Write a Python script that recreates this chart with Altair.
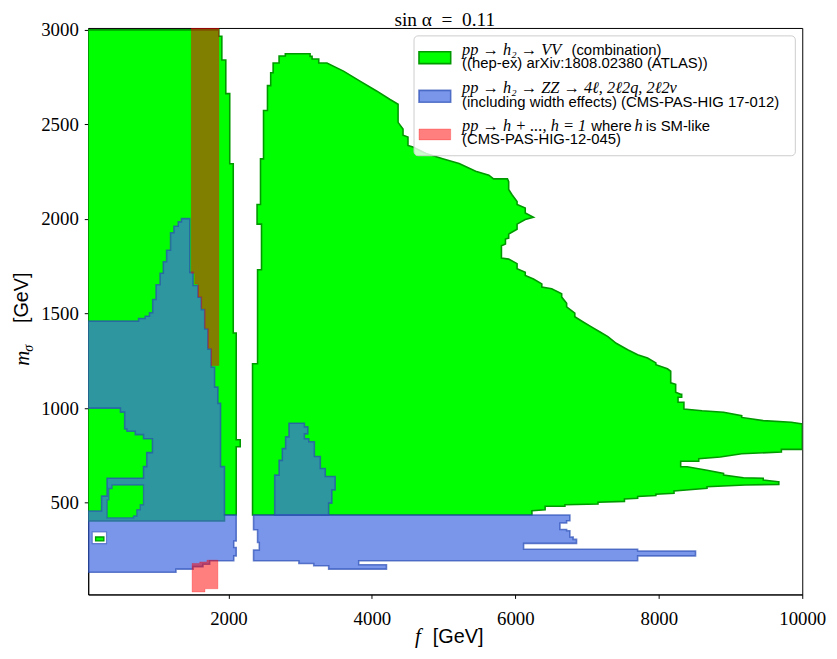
import altair as alt
import pandas as pd

# ---------------- region outlines (f in GeV, m_sigma in GeV) ----------------
# VV combination (green), left piece
green_left_f = [45, 1866, 1866, 1908, 1908, 1963, 1963, 2018, 2018, 2067, 2067, 2108, 2108, 2164, 2164, 2108, 2108, 1945, 1945, 45]
green_left_m = [3000, 3000, 2966, 2966, 2841, 2841, 2663, 2663, 2292, 2292, 1397, 1397, 833, 833, 796, 796, 435, 435, 404, 404]

# VV combination (green), right piece
green_right_f = [2336, 2336, 2406, 2406, 2461, 2461, 2399, 2399, 2447, 2447, 2489, 2489, 2544, 2544, 2589, 2589, 2623, 2623, 2706, 2706,
                 2793, 2793, 3138, 3138, 3166, 3166, 3259, 3259, 3373, 3604, 3834, 4065, 4248, 4365, 4365, 4434, 4434, 4503, 4503, 4572,
                 4756, 4987, 5216, 5447, 5631, 5696, 5890, 5907, 5907, 5954, 6024, 6024, 6138, 6138, 6253, 6138, 6024, 6024, 5907, 5907,
                 5862, 5862, 5806, 5806, 5907, 6024, 6024, 6138, 6138, 6253, 6369, 6369, 6507, 6646, 6646, 6715, 6715, 6829, 6829, 6940,
                 7060, 7175, 7290, 7406, 7566, 7705, 7843, 7959, 7959, 8120, 8166, 8166, 8235, 8235, 8305, 8319, 8319, 8268, 8268, 8350,
                 8350, 8603, 8903, 9156, 9156, 9456, 9847, 10000, 10000, 9709, 9709, 9156, 8857, 8557, 8557, 8305, 8305, 8395, 8672, 8903,
                 8903, 9180, 9456, 9456, 9664, 9673, 9673, 9203, 8672, 8672, 8212, 8212, 7959, 7959, 7705, 7705, 7521, 7521, 7152, 7152,
                 6691, 6691, 6415, 6415, 6231, 6231]
green_right_m = [435, 1235, 1235, 1732, 1732, 1973, 1973, 2077, 2077, 2318, 2318, 2574, 2574, 2705, 2705, 2773, 2773, 2825, 2825, 2862,
                 2862, 2874, 2874, 2860, 2860, 2846, 2846, 2825, 2825, 2782, 2729, 2677, 2633, 2607, 2511, 2476, 2443, 2433, 2389, 2381,
                 2346, 2319, 2293, 2253, 2232, 2212, 2212, 2197, 2156, 2128, 2093, 2077, 2058, 2032, 2009, 1997, 1973, 1946, 1920, 1899,
                 1894, 1868, 1858, 1793, 1788, 1764, 1737, 1718, 1701, 1683, 1657, 1640, 1631, 1605, 1587, 1554, 1535, 1502, 1483, 1457,
                 1430, 1404, 1378, 1343, 1309, 1282, 1265, 1239, 1230, 1208, 1195, 1134, 1126, 1084, 1073, 1073, 1058, 1058, 1031, 1031,
                 995, 986, 978, 960, 951, 934, 925, 917, 782, 782, 768, 759, 742, 733, 719, 719, 690, 690, 672, 655,
                 646, 632, 629, 620, 611, 611, 597, 594, 585, 576, 562, 550, 545, 538, 533, 524, 520, 507, 503, 493,
                 489, 481, 481, 463, 458, 435]

# ZZ (blue), left piece
blue_left_f = [45, 747, 747, 839, 839, 899, 899, 944, 944, 991, 991, 1047, 1047, 1092, 1092, 1138, 1138, 1193, 1193, 1240,
               1240, 1300, 1300, 1345, 1345, 1461, 1461, 1507, 1507, 1576, 1576, 1622, 1622, 1669, 1669, 1714, 1714, 1760, 1760, 1807,
               1807, 1853, 1853, 1890, 1890, 1945, 1945, 2108, 2108, 2074, 2074, 2108, 2108, 2074, 2074, 1738, 1738, 1645, 1645, 1507,
               1507, 1268, 1268, 45, 45, 231, 231, 308, 308, 816, 816, 861, 861, 940, 940, 816, 816, 701, 701, 585,
               585, 553, 553, 494, 494, 45]
blue_left_m = [1460, 1460, 1474, 1474, 1486, 1486, 1504, 1504, 1574, 1574, 1652, 1652, 1713, 1713, 1774, 1774, 1835, 1835, 1927, 1927,
               1962, 1962, 1985, 1985, 2002, 2002, 1718, 1718, 1648, 1648, 1586, 1586, 1521, 1521, 1418, 1418, 1312, 1312, 1216, 1216,
               1111, 1111, 1025, 1025, 691, 691, 435, 435, 298, 298, 263, 263, 219, 219, 193, 193, 175, 175, 162, 162,
               149, 149, 132, 132, 456, 456, 535, 535, 629, 629, 691, 691, 765, 765, 838, 838, 860, 860, 878, 878,
               890, 890, 979, 979, 1000, 1000]

# ZZ (blue), band right of the gap
blue_band_f = [2350, 6760, 6760, 6715, 6715, 6622, 6622, 6715, 6715, 6760, 6760, 6806, 6806, 6853, 6853, 6115, 6115, 7705, 7705, 8512,
               8512, 7705, 7705, 3816, 3816, 4203, 4203, 3397, 3397, 3189, 3189, 2982, 2982, 2350, 2350, 2430, 2430, 2406, 2406, 2350]
blue_band_m = [435, 435, 405, 405, 393, 393, 358, 358, 352, 352, 319, 319, 306, 306, 285, 285, 254, 254, 245, 245,
               219, 219, 193, 193, 172, 172, 149, 149, 167, 167, 179, 179, 193, 193, 250, 250, 290, 290, 357, 357]

# ZZ (blue), island near f = 3 TeV
blue_blob_f = [2844, 3059, 3059, 3107, 3107, 3059, 3059, 3120, 3120, 3198, 3198, 3281, 3281, 3350, 3350, 3488, 3488, 3442, 3442, 3397,
               3397, 2645, 2645, 2706, 2706, 2751, 2751, 2797, 2797, 2844]
blue_blob_m = [920, 920, 901, 901, 864, 864, 838, 838, 822, 822, 744, 744, 681, 681, 639, 639, 568, 568, 498, 498,
               435, 435, 646, 646, 724, 724, 786, 786, 848, 848]

# holes in the blue region
hole_green_f = [377, 816, 816, 770, 770, 723, 723, 677, 677, 308, 308, 332, 332, 377]
hole_green_m = [594, 594, 489, 489, 463, 463, 430, 430, 420, 420, 515, 515, 575, 575]
hole_white_f = [101, 300, 300, 101]
hole_white_m = [345, 345, 284, 284]
speck_green_f = [148, 263, 263, 148]
speck_green_m = [319, 319, 298, 298]

# SM-like h (red)
red_top_f = [1483, 1866, 1866, 1760, 1760, 1714, 1714, 1669, 1669, 1622, 1622, 1576, 1576, 1530, 1530, 1483]
red_top_m = [3010, 3010, 1226, 1226, 1317, 1317, 1422, 1422, 1527, 1527, 1587, 1587, 1657, 1657, 1713, 1713]
red_low_f = [1493, 1493, 1600, 1600, 1700, 1700, 1853, 1853, 1673, 1673]
red_low_m = [28, 179, 179, 187, 187, 196, 196, 45, 45, 28]

x_ticks = [2000, 4000, 6000, 8000, 10000]
y_ticks = [500, 1000, 1500, 2000, 2500, 3000]


def frame(name, fs, ms):
    return pd.DataFrame({"poly": name, "i": list(range(len(fs))), "f": fs, "m": ms})


xs = alt.Scale(domain=[45, 10000], nice=False, zero=False)
ys = alt.Scale(domain=[15, 3010], nice=False, zero=False)

x_axis = alt.Axis(values=x_ticks, format="d", title=None, labelFlush=False, labelPadding=11)
y_axis = alt.Axis(values=y_ticks, format="d", title=None, labelFlush=False, labelPadding=6)

GREEN_EDGE = "#009a00"
BLUE_EDGE = "#2a4db5"


def polys(frames, fill, fill_op, stroke, stroke_op, sw):
    df = pd.concat(frames, ignore_index=True)
    return alt.Chart(df).mark_line(
        interpolate="linear-closed", fill=fill, fillOpacity=fill_op,
        stroke=stroke, strokeOpacity=stroke_op, strokeWidth=sw, clip=True
    ).encode(
        x=alt.X("f:Q", scale=xs, axis=x_axis),
        y=alt.Y("m:Q", scale=ys, axis=y_axis),
        detail="poly:N",
        order="i:Q",
    )


green = polys([frame("g1", green_left_f, green_left_m), frame("g2", green_right_f, green_right_m)],
              "#00ff00", 1.0, GREEN_EDGE, 1.0, 1.6)
blue = polys([frame("b1", blue_left_f, blue_left_m), frame("b2", blue_band_f, blue_band_m),
              frame("b3", blue_blob_f, blue_blob_m)],
             "#4169e1", 0.7, BLUE_EDGE, 0.7, 1.6)
hole_w = polys([frame("h2", hole_white_f, hole_white_m)], "#ffffff", 1.0, BLUE_EDGE, 0.6, 1.2)
hole_g = polys([frame("h1", hole_green_f, hole_green_m)], "#00ff00", 1.0, BLUE_EDGE, 0.6, 1.4)
speck = polys([frame("h3", speck_green_f, speck_green_m)], "#00ff00", 1.0, GREEN_EDGE, 1.0, 1.4)
red = polys([frame("r1", red_top_f, red_top_m), frame("r2", red_low_f, red_low_m)],
            "#ff0000", 0.5, "#ff0000", 0.25, 1.0)

one = pd.DataFrame({"a": [0]})


def txt(s, x, y, font, size, style="normal", angle=0, baseline="middle", align="left"):
    return alt.Chart(one).mark_text(
        text=s, font=font, fontSize=size, fontStyle=style, align=align,
        baseline=baseline, angle=angle, color="black"
    ).encode(x=alt.value(x), y=alt.value(y))


def box(x1, x2, y1, y2, fill, fop, stroke, sop, sw, r=0):
    return alt.Chart(one).mark_rect(
        fill=fill, fillOpacity=fop, stroke=stroke, strokeOpacity=sop, strokeWidth=sw, cornerRadius=r
    ).encode(x=alt.value(x1), x2=alt.value(x2), y=alt.value(y1), y2=alt.value(y2))


SERIF = "Liberation Serif"
SANS = "Liberation Sans"
LS = 15      # legend text size
MS = 16.5    # legend math size

legend = [
    box(329, 714, 8, 129, "white", 0.8, "#cccccc", 1.0, 1, 4),
    box(334, 366, 24, 36, "#00ff00", 1.0, GREEN_EDGE, 1.0, 1.6),
    box(334, 366, 63, 75, "#4169e1", 0.7, BLUE_EDGE, 0.7, 1.6),
    box(334, 366, 102, 113, "#ff0000", 0.5, "#ff0000", 0.25, 1.0),
    txt("pp → h₂ → VV", 377.5, 22.3, SERIF, MS, "italic"),
    txt("(combination)", 488, 22.3, SANS, LS),
    txt("((hep-ex) arXiv:1808.02380 (ATLAS))", 377.5, 35.5, SANS, LS),
    txt("pp → h₂ → ZZ → 4ℓ, 2ℓ2q, 2ℓ2ν", 377.5, 61, SERIF, MS, "italic"),
    txt("(including width effects) (CMS-PAS-HIG 17-012)", 377.5, 75, SANS, LS),
    txt("pp → h + ..., h = 1", 377.5, 99.3, SERIF, MS, "italic"),
    txt("where", 508, 99.3, SANS, LS),
    txt("h", 551.5, 99.3, SERIF, MS, "italic"),
    txt("is SM-like", 563, 99.3, SANS, LS),
    txt("(CMS-PAS-HIG-12-045)", 377.5, 112.5, SANS, LS),
]

titles = [
    txt("sin α\u2002=\u20020.11", 360, -16.5, SERIF, 19.5, baseline="top", align="center"),
    txt("f", 330, 615, SERIF, 21, "italic"),
    txt("[GeV]", 348, 615, SANS, 20),
    txt("m", -66, 341, SERIF, 21, "italic", angle=270),
    txt("σ", -60, 327, SERIF, 14, "italic", angle=270),
    txt("[GeV]", -67, 298, SANS, 20, angle=270),
]

chart = alt.layer(green, blue, hole_w, hole_g, speck, red, *legend, *titles).properties(
    width=721,
    height=572,
    autosize=alt.AutoSizeParams(type="none"),
    padding={"left": 81, "top": 17, "right": 27, "bottom": 60},
).configure_axis(
    labelFont=SERIF, labelFontSize=19, labelColor="black", domainColor="black",
    tickColor="black", tickSize=4, grid=False, domainWidth=1, tickWidth=1,
).configure_view(stroke="black", strokeWidth=1)

chart.save("out.html", embed_options={"renderer": "svg", "actions": False})
